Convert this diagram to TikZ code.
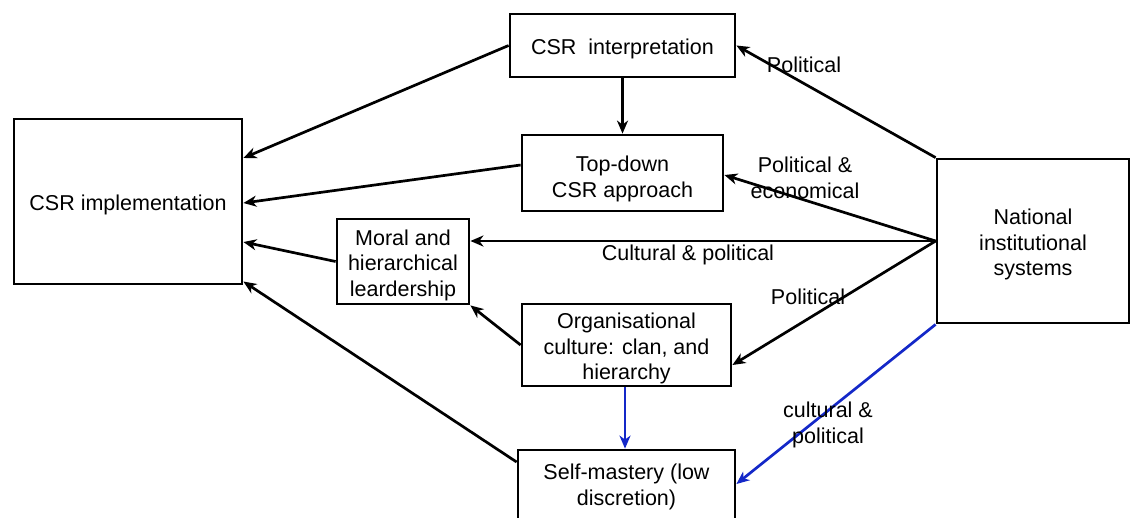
\documentclass[tikz,border=0pt]{standalone}
\usepackage{fontspec}
\setmainfont{Liberation Sans}
\usetikzlibrary{arrows.meta}
\definecolor{linkblue}{RGB}{20,40,200}
% invisible strut that lowers the text block a little inside its box
\newcommand{\boxstrut}{\rule{0pt}{23pt}}
\begin{document}
\begin{tikzpicture}[x=1pt,y=-1pt,
  box/.style={draw, line width=2.8pt, align=center, inner sep=0pt,
    font=\fontsize{21.5}{25.5}\selectfont},
  link/.style={line width=2.7pt, -{Stealth[length=13pt,width=11pt,inset=4pt]}},
  lbl/.style={align=center, inner sep=0pt, font=\fontsize{21.5}{25.5}\selectfont}]
\useasboundingbox (0,0) rectangle (1131,517);

% boxes
\node[box, minimum width=228pt, minimum height=165pt] (impl) at (128,201.5) {\boxstrut CSR implementation};
\node[box, minimum width=192pt, minimum height=164pt] (nat) at (1033,241) {\boxstrut National\\institutional\\systems};
\node[box, minimum width=225pt, minimum height=63pt] (interp) at (622.5,45.5) {\boxstrut CSR\ \ interpretation};
\node[box, minimum width=201pt, minimum height=76pt] (topdown) at (622.5,173) {\rule{0pt}{27pt}Top-down\\CSR approach};
\node[box, minimum width=132pt, minimum height=85pt] (moral) at (403,261.5) {\boxstrut Moral and\\hierarchical\\leardership};
\node[box, minimum width=209pt, minimum height=82pt] (org) at (626.5,345) {\boxstrut Organisational\\culture: clan, and\\hierarchy};
\node[box, minimum width=217pt, minimum height=74pt] (self) at (626.5,487) {Self-mastery (low\\discretion)};

% links into CSR implementation
\draw[link] (interp.west) -- ([yshift=43.5pt]impl.east);
\draw[link] ([yshift=8pt]topdown.west) -- ([yshift=-1.5pt]impl.east);
\draw[link] (moral.west) -- ([yshift=-40.5pt]impl.east);
\draw[link] ([yshift=25pt]self.west) -- ([yshift=-80pt]impl.east);

% internal links
\draw[link] (interp.south) -- (topdown.north);
\draw[link] (org.west) -- (moral.south east);
\draw[link, linkblue] ([xshift=-1.5pt]org.south) -- ([xshift=-1.5pt]self.north);

% links from the national institutional systems
\draw[link] (nat.north west) -- (interp.east);
\draw[link] (nat.west) -- ([yshift=-2pt]topdown.east);
\draw[link] (nat.west) -- ([yshift=20.5pt]moral.east);
\draw[link] (nat.west) -- ([yshift=-20pt]org.east);
\draw[link, linkblue] (nat.south west) -- ([yshift=3pt]self.east);

% labels
\node[lbl] (l1) at (804,65) {Political};
\node[lbl] (l2) at (805,178) {Political \&\\economical};
\node[lbl] (l3) at (688,255) {Cultural \& political};
\node[lbl] (l4) at (808,297) {Political};
\node[lbl] (l5) at (828,425) {cultural \&\\political};
\end{tikzpicture}
\end{document}
